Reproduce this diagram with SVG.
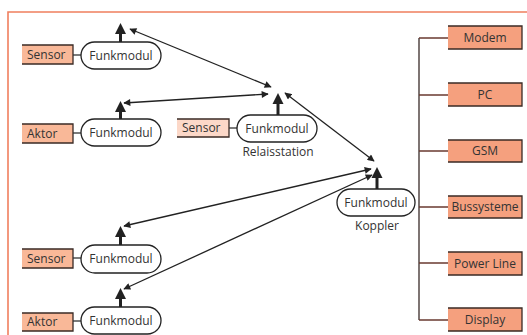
<svg xmlns="http://www.w3.org/2000/svg" width="527" height="335" viewBox="0 0 527 335">
<defs>
<style>
text{font-family:"Open Sans","Noto Sans","Liberation Sans",sans-serif;font-size:12px;fill:#333}
.pill{fill:#fff;stroke:#222;stroke-width:1.3}
.lbox{fill:#f9b898}
.rbox{fill:#f5a07e}
.relbox{fill:#fcd8c8}
.edge{fill:none;stroke:#3a2a25;stroke-width:1.3}
.link{stroke:#333;stroke-width:1.3;fill:none}
.thin{stroke:#222;stroke-width:1.3;fill:none;marker-start:url(#ah);marker-end:url(#ah)}
.up{stroke:#222;stroke-width:3;fill:none}
.tree{stroke:#5e5250;stroke-width:1.6;fill:none}
.branch{stroke:#6a3a30;stroke-width:1.4;fill:none}
.mid{text-anchor:middle}
</style>
<marker id="ah" viewBox="0 0 10 10" refX="9" refY="5" markerWidth="8" markerHeight="7" markerUnits="userSpaceOnUse" orient="auto-start-reverse">
<path d="M0,0 L10,5 L0,10 z" fill="#222"/>
</marker>
<path id="uphead" d="M-5.5,0 L0,-11 L5.5,0 z" fill="#222"/>
</defs>

<!-- frame -->
<path d="M8,335 L8,12 L527,12" fill="none" stroke="#f07f5e" stroke-width="1.6"/>

<g id="connectors">
<line class="thin" x1="271" y1="87" x2="130" y2="29"/>
<line class="thin" x1="268" y1="94" x2="124" y2="103"/>
<line class="thin" x1="285" y1="93" x2="374" y2="161"/>
<line class="thin" x1="371" y1="169" x2="124" y2="226"/>
<line class="thin" x1="372" y1="175" x2="124" y2="289"/>
<path class="tree" d="M419,38 L419,320"/>
<path class="branch" d="M419,38 H448 M419,95 H448 M419,151 H448 M419,207 H448 M419,263 H448 M419,320 H448"/>
</g>

<g id="node-sensor1">
<rect class="lbox" x="22" y="45" width="51" height="19"/>
<path class="edge" d="M22,45 H73 V64 H22"/>
<text x="27" y="59">Sensor</text>
<line class="link" x1="73" y1="55" x2="81" y2="55"/>
<rect class="pill" x="81" y="42" width="80" height="27" rx="13.5"/>
<text class="mid" x="121" y="60">Funkmodul</text>
<line class="up" x1="120.5" y1="42" x2="120.5" y2="31"/>
<use href="#uphead" x="120.5" y="34"/>
</g>

<g id="node-aktor1">
<rect class="lbox" x="22" y="124" width="51" height="19"/>
<path class="edge" d="M22,124 H73 V143 H22"/>
<text x="27" y="138">Aktor</text>
<line class="link" x1="73" y1="133" x2="81" y2="133"/>
<rect class="pill" x="81" y="119" width="80" height="27" rx="13.5"/>
<text class="mid" x="121" y="137">Funkmodul</text>
<line class="up" x1="120.5" y1="119" x2="120.5" y2="109"/>
<use href="#uphead" x="120.5" y="112"/>
</g>

<g id="node-relais">
<rect class="relbox" x="177" y="119" width="52" height="18"/>
<path class="edge" d="M177,119 H229 V137 H177"/>
<text x="182" y="132">Sensor</text>
<line class="link" x1="229" y1="128" x2="237" y2="128"/>
<rect class="pill" x="237" y="115" width="80" height="27" rx="13.5"/>
<text class="mid" x="277" y="133">Funkmodul</text>
<line class="up" x1="278" y1="115" x2="278" y2="101"/>
<use href="#uphead" x="278" y="104"/>
<text class="mid" x="278" y="156">Relaisstation</text>
</g>

<g id="node-koppler">
<rect class="pill" x="337" y="189" width="78" height="27" rx="13.5"/>
<text class="mid" x="376" y="207">Funkmodul</text>
<line class="up" x1="377" y1="189" x2="377" y2="175"/>
<use href="#uphead" x="377" y="178"/>
<text class="mid" x="377" y="230">Koppler</text>
</g>

<g id="node-sensor2">
<rect class="lbox" x="22" y="249" width="51" height="19"/>
<path class="edge" d="M22,249 H73 V268 H22"/>
<text x="27" y="263">Sensor</text>
<line class="link" x1="73" y1="258" x2="81" y2="258"/>
<rect class="pill" x="81" y="245" width="80" height="28" rx="14"/>
<text class="mid" x="121" y="263">Funkmodul</text>
<line class="up" x1="120.5" y1="245" x2="120.5" y2="234"/>
<use href="#uphead" x="120.5" y="237"/>
</g>

<g id="node-aktor2">
<rect class="lbox" x="22" y="313" width="51" height="18"/>
<path class="edge" d="M22,313 H73 V331 H22"/>
<text x="27" y="326">Aktor</text>
<line class="link" x1="73" y1="321" x2="81" y2="321"/>
<rect class="pill" x="81" y="307" width="80" height="27" rx="13.5"/>
<text class="mid" x="121" y="325">Funkmodul</text>
<line class="up" x1="120.5" y1="307" x2="120.5" y2="296"/>
<use href="#uphead" x="120.5" y="299"/>
</g>

<g id="node-modem">
<rect class="rbox" x="448" y="26" width="74" height="23"/>
<path class="edge" d="M448,26 H522 V49 H448"/>
<text class="mid" x="485" y="42">Modem</text>
</g>
<g id="node-pc">
<rect class="rbox" x="448" y="83" width="74" height="23"/>
<path class="edge" d="M448,83 H522 V106 H448"/>
<text class="mid" x="485" y="99">PC</text>
</g>
<g id="node-gsm">
<rect class="rbox" x="448" y="140" width="74" height="22"/>
<path class="edge" d="M448,140 H522 V162 H448"/>
<text class="mid" x="485" y="155">GSM</text>
</g>
<g id="node-bus">
<rect class="rbox" x="448" y="196" width="74" height="22"/>
<path class="edge" d="M448,196 H522 V218 H448"/>
<text class="mid" x="485" y="211">Bussysteme</text>
</g>
<g id="node-powerline">
<rect class="rbox" x="448" y="252" width="74" height="23"/>
<path class="edge" d="M448,252 H522 V275 H448"/>
<text class="mid" x="485" y="268">Power Line</text>
</g>
<g id="node-display">
<rect class="rbox" x="448" y="308" width="74" height="23"/>
<path class="edge" d="M448,308 H522 V331 H448"/>
<text class="mid" x="485" y="324">Display</text>
</g>
</svg>
